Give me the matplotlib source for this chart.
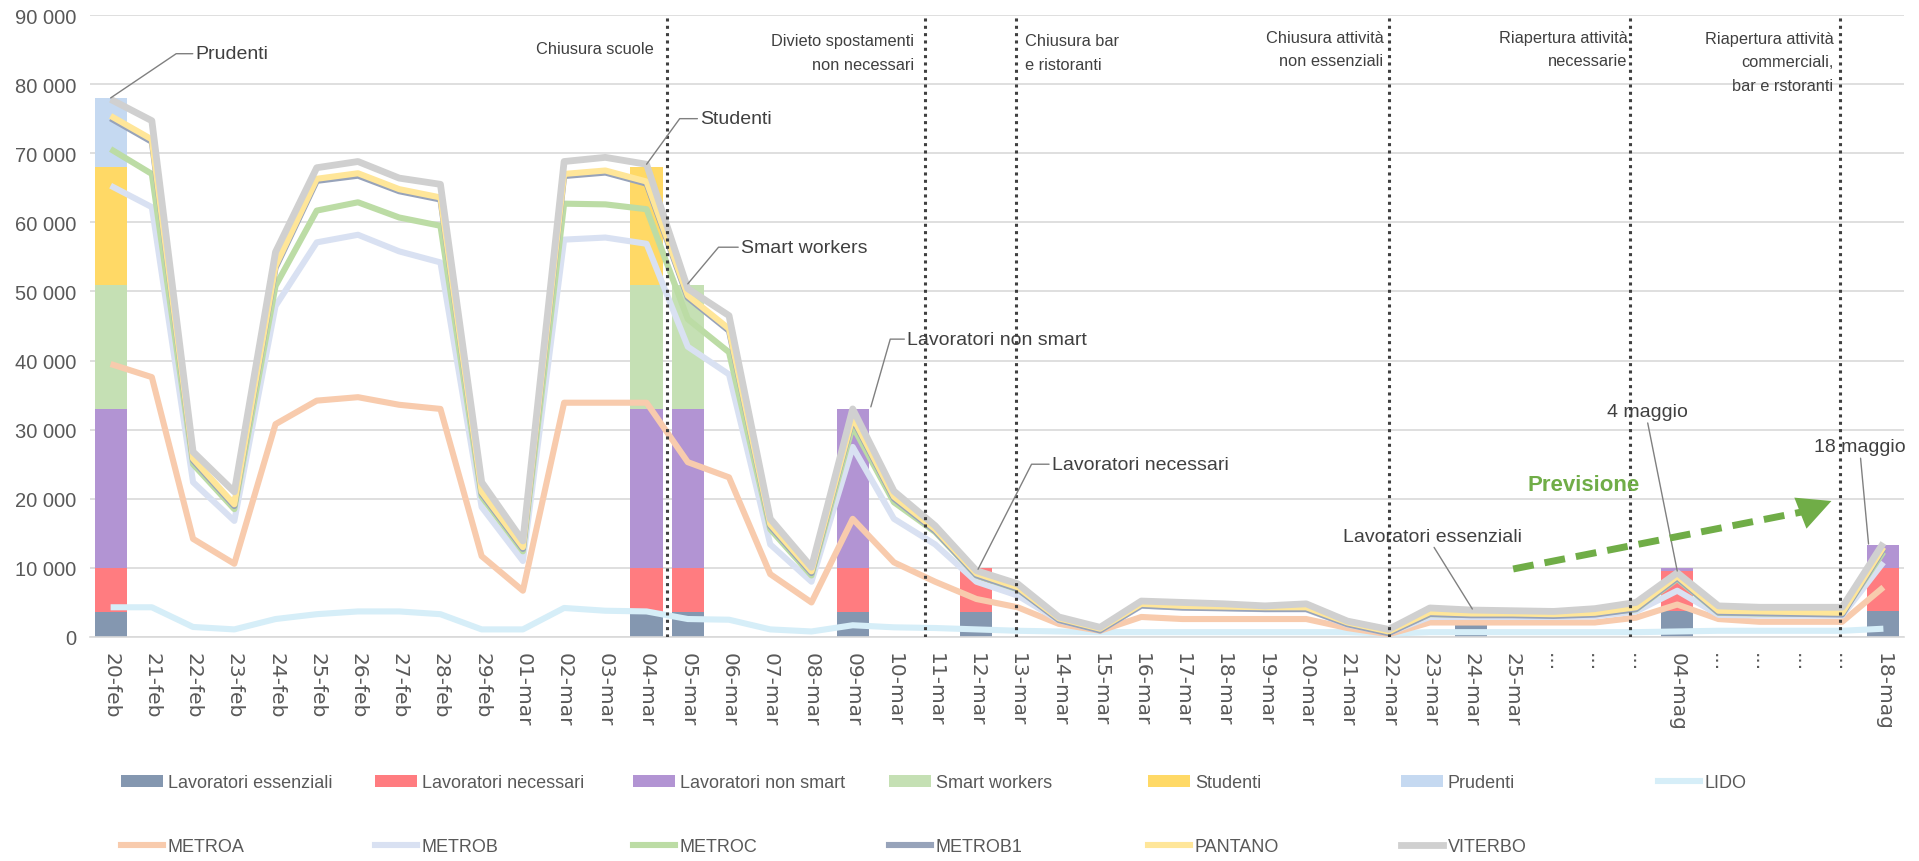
import matplotlib
matplotlib.use('Agg')
import matplotlib.pyplot as plt
import numpy as np
from matplotlib.patches import Patch
from matplotlib.lines import Line2D

W, H, DPI = 1919, 862, 100

# ---------------- data ----------------
categories = ['20-feb', '21-feb', '22-feb', '23-feb', '24-feb', '25-feb', '26-feb', '27-feb',
              '28-feb', '29-feb', '01-mar', '02-mar', '03-mar', '04-mar', '05-mar', '06-mar',
              '07-mar', '08-mar', '09-mar', '10-mar', '11-mar', '12-mar', '13-mar', '14-mar',
              '15-mar', '16-mar', '17-mar', '18-mar', '19-mar', '20-mar', '21-mar', '22-mar',
              '23-mar', '24-mar', '25-mar', '...', '...', '...', '04-mag', '...', '...', '...',
              '...', '18-mag']

# stacked bars (segment heights) at selected dates
bar_dates = ['20-feb', '04-mar', '05-mar', '09-mar', '12-mar', '24-mar', '04-mag', '18-mag']
lav_essenziali = [3600, 3600, 3600, 3600, 3600, 1700, 3700, 3700]
lav_necessari = [6400, 6400, 6400, 6400, 6400, 0, 5900, 6300]
lav_non_smart = [23000, 23000, 23000, 23000, 0, 0, 400, 3300]
smart_workers = [18000, 18000, 18000, 0, 0, 0, 0, 0]
studenti = [17000, 17000, 0, 0, 0, 0, 0, 0]
prudenti = [10000, 0, 0, 0, 0, 0, 0, 0]

# lines (levels as plotted)
lido = [4300, 4300, 1450, 1100, 2600, 3300, 3700, 3700, 3300, 1100, 1100, 4200, 3800, 3700,
        2600, 2500, 1100, 800, 1700, 1400, 1300, 1100, 900, 800, 700, 700, 700, 700, 700, 700,
        700, 500, 700, 700, 700, 700, 700, 700, 800, 900, 900, 900, 900, 1200]
metroa = [39500, 37600, 14200, 10600, 30800, 34200, 34700, 33600, 33000, 11700, 6700, 33900,
          33900, 33900, 25300, 23100, 9100, 5000, 17100, 10800, 8000, 5500, 4300, 1900, 900,
          2900, 2600, 2600, 2600, 2600, 1300, 400, 2100, 2100, 2100, 2100, 2100, 2800, 4700,
          2600, 2200, 2200, 2200, 7200]
metrob = [65300, 62200, 22400, 16800, 47900, 57100, 58200, 55800, 54200, 18800, 11000, 57500,
          57800, 56900, 42000, 38000, 13400, 8000, 27500, 17100, 13400, 8000, 6000, 2400, 1000,
          4500, 4300, 4200, 4000, 4000, 1800, 600, 2900, 2900, 2900, 2900, 3000, 3700, 6700,
          3200, 3100, 3100, 3100, 10800]
metroc = [70600, 67000, 25000, 18500, 50800, 61700, 62900, 60700, 59500, 20300, 12400, 62700,
          62600, 61900, 46000, 41200, 15600, 8900, 30500, 19500, 15200, 8900, 6900, 2600, 1100,
          4700, 4500, 4400, 4200, 4300, 2000, 700, 3300, 3200, 3200, 3200, 3400, 4000, 8400,
          3500, 3400, 3400, 3400, 12300]
metrob1 = [75050, 71650, 25550, 18950, 53400, 66000, 66750, 64500, 63300, 20750, 12750, 66700,
           67200, 65600, 49100, 44300, 16050, 9250, 31550, 20050, 15350, 8950, 6950, 2450, 950,
           4550, 4250, 4150, 4050, 4050, 1850, 550, 3350, 3150, 3150, 3050, 3250, 4050, 8550,
           3550, 3450, 3350, 3250, 12750]
pantano = [75400, 72000, 25800, 19200, 53700, 66300, 67100, 64800, 63600, 21000, 13000, 67000,
           67500, 65900, 49400, 44600, 16300, 9500, 31800, 20300, 15600, 9200, 7200, 2700, 1200,
           4800, 4500, 4400, 4300, 4300, 2100, 800, 3600, 3400, 3400, 3300, 3500, 4300, 8800,
           3800, 3700, 3600, 3500, 13000]
viterbo = [77800, 74700, 26800, 21000, 55700, 67900, 68800, 66400, 65500, 22400, 13900, 68800,
           69400, 68400, 50400, 46500, 17100, 10100, 33000, 21100, 16100, 9600, 7700, 2900, 1400,
           5200, 5000, 4800, 4500, 4800, 2300, 1100, 4200, 3900, 3800, 3700, 4100, 5000, 9300,
           4500, 4300, 4300, 4300, 13600]

yticks = list(range(0, 90001, 10000))

# ---------------- style ----------------
FONT = ['Liberation Sans', 'DejaVu Sans']
plt.rcParams['font.family'] = FONT
TXT = '#404040'
TICK = '#595959'

bar_series = [
    ('Lavoratori essenziali', lav_essenziali, '#8497b0'),
    ('Lavoratori necessari', lav_necessari, '#ff7c80'),
    ('Lavoratori non smart', lav_non_smart, '#b294d3'),
    ('Smart workers', smart_workers, '#c5e0b4'),
    ('Studenti', studenti, '#ffd966'),
    ('Prudenti', prudenti, '#c5d9f1'),
]
line_series = [
    ('LIDO', lido, '#d6eef8', 4.4),
    ('METROA', metroa, '#f8cbad', 4.4),
    ('METROB', metrob, '#d9e1f2', 4.4),
    ('METROC', metroc, '#bcdca5', 4.4),
    ('METROB1', metrob1, '#97a3ba', 4.4),
    ('PANTANO', pantano, '#ffe699', 4.4),
    ('VITERBO', viterbo, '#d0d0d0', 4.9),
]

fig = plt.figure(figsize=(W / DPI, H / DPI), dpi=DPI)
ax = fig.add_axes([90 / W, 1 - 638 / H, (1904 - 90) / W, (638 - 16) / H])

x = np.arange(len(categories))
bx = np.array([categories.index(d) for d in bar_dates])
bottom = np.zeros(len(bar_dates))
handles = {}
for name, vals, col in bar_series:
    v = np.array(vals, dtype=float)
    ax.bar(bx, v, 0.78, bottom=bottom, color=col, zorder=2, linewidth=0)
    bottom += v
    handles[name] = Patch(facecolor=col, edgecolor='none')

for name, vals, col, lw in line_series:
    ax.plot(x, vals, color=col, lw=lw, zorder=3, solid_joinstyle='round', solid_capstyle='butt')
    handles[name] = Line2D([], [], color=col, lw=lw)

ax.set_xlim(-0.5, len(categories) - 0.5)
ax.set_ylim(0, 90000)
ax.set_yticks(yticks)
ax.set_yticklabels([f'{v:,}'.replace(',', ' ') for v in yticks], fontsize=14.5, color=TICK)
ax.set_xticks(x)
ax.set_xticklabels(categories, rotation=-90, fontsize=14.5, color=TICK,
                   family=['DejaVu Sans'], ha='center', va='top')
ax.tick_params(axis='both', length=0)
ax.tick_params(axis='y', pad=10)
ax.tick_params(axis='x', pad=11)
ax.grid(axis='y', color='#d9d9d9', lw=1.2, zorder=0)
ax.set_axisbelow(True)
for s in ['top', 'right', 'left']:
    ax.spines[s].set_visible(False)
ax.spines['bottom'].set_color('#d9d9d9')
ax.spines['bottom'].set_linewidth(1.2)

# ---------------- events ----------------
event_x = [13.5, 19.75, 21.95, 31.0, 36.85, 41.95]
for xe in event_x:
    ax.axvline(xe, color='#404040', lw=2.2, ls=(0, (1, 1.4)), zorder=5)

event_labels = [
    ('Chiusura scuole', 13.18, 85100, 'right'),
    ('Divieto spostamenti\nnon necessari', 19.49, 84600, 'right'),
    ('Chiusura bar\ne ristoranti', 22.18, 84600, 'left'),
    ('Chiusura attività\nnon essenziali', 30.87, 85100, 'right'),
    ('Riapertura attività\nnecessarie', 36.79, 85100, 'right'),
    ('Riapertura attività\ncommerciali,\nbar e rstoranti', 41.79, 83200, 'right'),
]
for txt, tx, ty, ha in event_labels:
    ax.text(tx, ty, txt, ha=ha, va='center', multialignment=ha, fontsize=11.8,
            color=TXT, linespacing=1.7, zorder=6)

# ---------------- annotations ----------------
lead = dict(arrowstyle='-', color='#808080', lw=1.0, shrinkA=0, shrinkB=0)
angled = [
    ('Prudenti', (0, 78000), (2.06, 84400), 34),
    ('Studenti', (13.0, 68400), (14.3, 75000), 54),
    ('Smart workers', (14.0, 51100), (15.29, 56400), 50),
    ('Lavoratori non smart', (18.44, 33300), (19.32, 43100), 74),
    ('Lavoratori necessari', (21.04, 9800), (22.83, 25000), 63),
]
for txt, xy, xyt, ang in angled:
    ax.annotate(txt, xy=xy, xytext=xyt, ha='left', va='center', fontsize=14, color=TXT,
                zorder=7,
                arrowprops=dict(lead, connectionstyle=f'angle,angleA=0,angleB={ang},rad=0'))

straight = [
    ('Lavoratori essenziali', (33.03, 4050), (32.06, 14600)),
    ('4 maggio', (38.0, 9550), (37.27, 32600)),
    ('18 maggio', (42.64, 13460), (42.44, 27500)),
]
for txt, xy, xyt in straight:
    ax.annotate(txt, xy=xy, xytext=xyt, ha='center', va='center', fontsize=14, color=TXT,
                zorder=7, arrowprops=dict(lead, relpos=(0.5, 0.0)))

GREEN = '#70ad47'
ax.text(35.72, 22100, 'Previsione', ha='center', va='center', fontsize=16,
        fontweight='bold', color=GREEN, zorder=7)
ax.plot([34.02, 41.2], [9840, 18300], color=GREEN, lw=5, ls=(0, (3, 1.6)),
        solid_capstyle='butt', dash_capstyle='butt', zorder=7)
ax.annotate('', xy=(41.74, 19680), xytext=(41.0, 17950),
            arrowprops=dict(arrowstyle='-|>,head_width=0.5,head_length=1.0',
                            mutation_scale=24, color=GREEN, lw=0, shrinkA=0, shrinkB=0),
            zorder=7)

# ---------------- legend ----------------
col_x = [121, 375, 633, 889, 1148, 1401, 1658]
row1 = ['Lavoratori essenziali', 'Lavoratori necessari', 'Lavoratori non smart',
        'Smart workers', 'Studenti', 'Prudenti', 'LIDO']
row2 = ['METROA', 'METROB', 'METROC', 'METROB1', 'PANTANO', 'VITERBO']
for row, ypx in ((row1, 784), (row2, 848)):
    for name, xpx in zip(row, col_x):
        fig.legend(handles=[handles[name]], labels=[name], loc='center left',
                   bbox_to_anchor=(xpx / W, 1 - ypx / H), frameon=False, borderpad=0,
                   borderaxespad=0, handlelength=2.35, handleheight=0.6,
                   handletextpad=0.25, fontsize=13, labelcolor=TICK)

fig.savefig('out.png', dpi=DPI)
